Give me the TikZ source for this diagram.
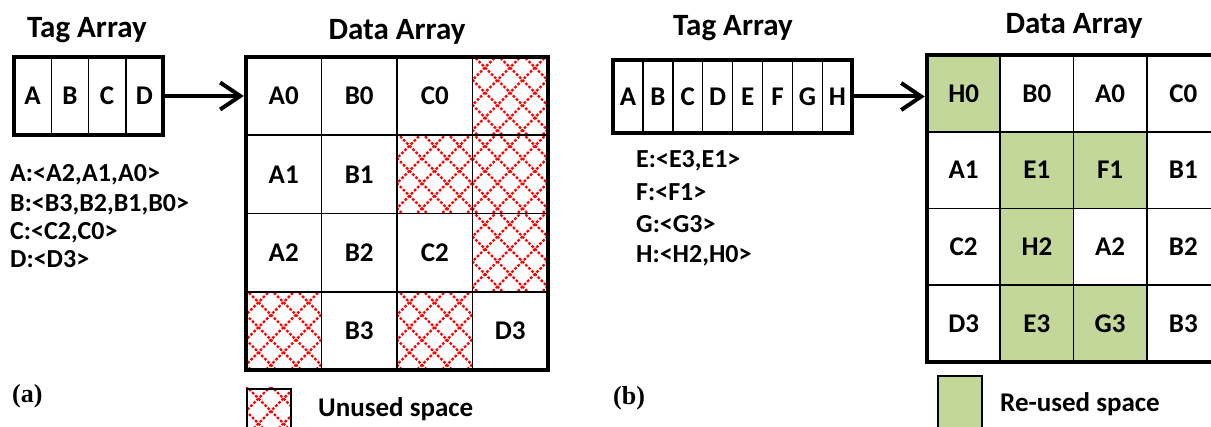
\documentclass[tikz,border=0pt]{standalone}
\usepackage{fontspec}
\setmainfont{Carlito}
\newfontfamily\capfont{Liberation Serif}
\usetikzlibrary{positioning, arrows.meta}
\definecolor{reuse}{HTML}{C4D79B}
\definecolor{unused}{HTML}{FF0000}
% red diamond lattice inside one cell: x0, y0, width, height
\newcommand{\hatchcell}[4]{%
  \begin{scope}
    \clip (#1,#2) rectangle ++(#3,#4);
    \foreach \k in {0,...,12} {
      \draw[hatchline] (#1-100+25*\k,#2-2) -- ++(110,110);
      \draw[hatchline] (#1+25*\k,#2-2) -- ++(-110,110);
    }
  \end{scope}}

\begin{document}
\begin{tikzpicture}[x=1pt, y=-1pt,
  hatchline/.style={unused, line width=2.4pt, dash pattern=on 2.6pt off 1.8pt},
  title/.style={inner sep=0pt, anchor=base, font=\bfseries\fontsize{31}{34}\selectfont},
  lbl/.style={inner sep=0pt, font=\bfseries\fontsize{27}{30}\selectfont},
  listtxt/.style={inner sep=0pt, anchor=base west, font=\bfseries\fontsize{26}{30}\selectfont},
  cellL/.style={draw, line width=1.6pt, minimum width=75.5pt, minimum height=78.25pt, inner sep=0pt, lbl},
  cellR/.style={draw, line width=1.6pt, minimum width=73.25pt, minimum height=76.75pt, inner sep=0pt, lbl},
  reused/.style={fill=reuse}, plain/.style={},
  frame/.style={draw, line width=4.5pt, inner sep=0pt},
  arr/.style={line width=4pt, -{Straight Barb[length=20pt, width=27pt, line width=4pt]}},
  key/.style={draw, line width=2pt, inner sep=0pt, minimum width=44pt, minimum height=52pt},
  capt/.style={font=\capfont\bfseries\fontsize{26}{30}\selectfont, inner sep=0pt, anchor=base west}]
\clip (0,0) rectangle (1211,427);

% ---- (a) ----
\node[title] (tagtitleL) at (87,38) {Tag Array};
\node[frame, minimum width=149pt, minimum height=78pt] (tagL) at (88.5,96) {};
\foreach \i/\t in {0/A,1/B,2/C,3/D} {
  \node[lbl] (tl-\t) at (14+37.25*\i+18.6,96) {\t};
}
\foreach \i in {1,2,3} \draw[line width=1.5pt] (14+37.25*\i,57) -- (14+37.25*\i,135);

\node[listtxt] (la) at (10,182) {A:<A2,A1,A0>};
\node[listtxt] (lb) at (10,212) {B:<B3,B2,B1,B0>};
\node[listtxt] (lc) at (10,240) {C:<C2,C0>};
\node[listtxt] (ld) at (10,268) {D:<D3>};

\node[title] (datatitleL) at (397,40) {Data Array};
\foreach \c/\r in {3/0, 2/1, 3/1, 3/2, 0/3, 2/3}
  \hatchcell{246+75.5*\c}{57+78.25*\r}{75.5}{78.25};
\foreach \c/\r/\t in {0/0/A0, 1/0/B0, 2/0/C0, 3/0/,
                      0/1/A1, 1/1/B1, 2/1/, 3/1/,
                      0/2/A2, 1/2/B2, 2/2/C2, 3/2/,
                      0/3/, 1/3/B3, 2/3/, 3/3/D3}
  \node[cellL] (dl-\c\r) at (246+75.5*\c+37.75, 57+78.25*\r+39.1) {\t};
\node[frame, minimum width=302pt, minimum height=313pt] (dataL) at (397,213.5) {};
\draw[arr] (tagL.east) -- (tagL.east -| dataL.west);

\node[capt] (capA) at (12,403) {(a)};
\hatchcell{246}{388}{44}{52}
\node[key, anchor=north west] (keyL) at (246,388) {};
\node[lbl, anchor=base west] (keytxtL) at (318,417) {Unused space};

% ---- (b) ----
\node[title] (tagtitleR) at (733,36) {Tag Array};
\node[frame, minimum width=239pt, minimum height=73pt] (tagR) at (732.5,96.5) {};
\foreach \i/\t in {0/A,1/B,2/C,3/D,4/E,5/F,6/G,7/H} {
  \node[lbl] (tr-\t) at (613+29.9*\i+15,96.5) {\t};
}
\foreach \i in {1,...,7} \draw[line width=1.5pt] (613+29.9*\i,60) -- (613+29.9*\i,133);

\node[listtxt] (le) at (636,168) {E:<E3,E1>};
\node[listtxt] (lf) at (636,201) {F:<F1>};
\node[listtxt] (lg) at (636,233) {G:<G3>};
\node[listtxt] (lh) at (636,263) {H:<H2,H0>};

\node[title] (datatitleR) at (1074,34) {Data Array};
\foreach \c/\r/\t/\s in {0/0/H0/reused, 1/0/B0/plain, 2/0/A0/plain, 3/0/C0/plain,
                         0/1/A1/plain, 1/1/E1/reused, 2/1/F1/reused, 3/1/B1/plain,
                         0/2/C2/plain, 1/2/H2/reused, 2/2/A2/plain, 3/2/B2/plain,
                         0/3/D3/plain, 1/3/E3/reused, 2/3/G3/reused, 3/3/B3/plain}
  \node[cellR, \s] (dr-\c\r) at (927+73.25*\c+36.6, 55+76.75*\r+38.4) {\t};
\node[frame, minimum width=293pt, minimum height=307pt] (dataR) at (1073.5,208.5) {};
\draw[arr] (tagR.east) -- (tagR.east -| dataR.west);

\node[capt] (capB) at (613,405) {(b)};
\node[key, fill=reuse, anchor=north west, minimum height=55pt] (keyR) at (937,375) {};
\node[lbl, anchor=base west] (keytxtR) at (1000,412) {Re-used space};
\end{tikzpicture}
\end{document}
